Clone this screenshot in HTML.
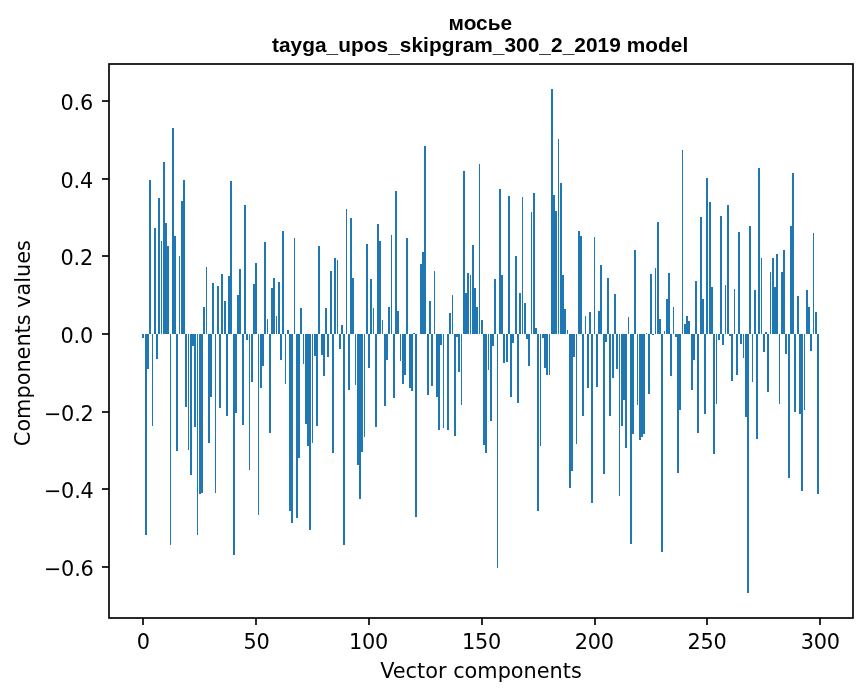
<!DOCTYPE html>
<html><head><meta charset="utf-8"><title>мосье</title>
<style>
html,body{margin:0;padding:0;background:#fff;}
svg{display:block}
.t{font-family:"DejaVu Sans","Liberation Sans",sans-serif;font-size:20.83px;fill:#000}
.h{font-family:"Liberation Sans","DejaVu Sans",sans-serif;font-weight:bold;font-size:20.83px;fill:#000}
</style></head><body>
<svg width="867" height="696" viewBox="0 0 867 696">
<rect width="867" height="696" fill="#fff"/>
<g fill="#1f77b4" shape-rendering="crispEdges"><rect x="142" y="334" width="2" height="4"/><rect x="145" y="334" width="2" height="201"/><rect x="147" y="334" width="2" height="35"/><rect x="149" y="180" width="2" height="154"/><rect x="152" y="334" width="1" height="92"/><rect x="154" y="228" width="2" height="106"/><rect x="156" y="334" width="2" height="25"/><rect x="158" y="198" width="2" height="136"/><rect x="161" y="241" width="1" height="93"/><rect x="163" y="162" width="2" height="172"/><rect x="165" y="223" width="2" height="111"/><rect x="167" y="246" width="2" height="88"/><rect x="170" y="334" width="1" height="211"/><rect x="172" y="128" width="2" height="206"/><rect x="174" y="236" width="2" height="98"/><rect x="176" y="334" width="2" height="117"/><rect x="179" y="256" width="1" height="78"/><rect x="181" y="201" width="2" height="133"/><rect x="183" y="180" width="2" height="154"/><rect x="185" y="334" width="2" height="73"/><rect x="188" y="334" width="1" height="116"/><rect x="190" y="334" width="2" height="141"/><rect x="192" y="334" width="2" height="12"/><rect x="194" y="334" width="2" height="93"/><rect x="197" y="334" width="1" height="201"/><rect x="199" y="334" width="2" height="160"/><rect x="201" y="334" width="2" height="159"/><rect x="203" y="307" width="2" height="27"/><rect x="206" y="267" width="1" height="67"/><rect x="208" y="334" width="2" height="109"/><rect x="210" y="334" width="2" height="63"/><rect x="212" y="283" width="2" height="51"/><rect x="215" y="334" width="1" height="159"/><rect x="217" y="286" width="2" height="48"/><rect x="219" y="334" width="2" height="74"/><rect x="221" y="274" width="2" height="60"/><rect x="224" y="301" width="2" height="33"/><rect x="226" y="334" width="2" height="82"/><rect x="228" y="276" width="2" height="58"/><rect x="230" y="181" width="2" height="153"/><rect x="233" y="334" width="2" height="221"/><rect x="235" y="334" width="2" height="79"/><rect x="237" y="295" width="2" height="39"/><rect x="239" y="269" width="2" height="65"/><rect x="242" y="334" width="2" height="91"/><rect x="244" y="205" width="2" height="129"/><rect x="246" y="334" width="2" height="6"/><rect x="249" y="334" width="1" height="136"/><rect x="251" y="334" width="2" height="48"/><rect x="253" y="284" width="2" height="50"/><rect x="255" y="263" width="2" height="71"/><rect x="258" y="334" width="1" height="181"/><rect x="260" y="334" width="2" height="54"/><rect x="262" y="334" width="2" height="32"/><rect x="264" y="242" width="2" height="92"/><rect x="267" y="319" width="1" height="15"/><rect x="269" y="334" width="2" height="99"/><rect x="271" y="288" width="2" height="46"/><rect x="273" y="278" width="2" height="56"/><rect x="276" y="316" width="1" height="18"/><rect x="278" y="282" width="2" height="52"/><rect x="280" y="334" width="2" height="26"/><rect x="282" y="231" width="2" height="103"/><rect x="285" y="334" width="1" height="50"/><rect x="287" y="330" width="2" height="4"/><rect x="289" y="334" width="2" height="177"/><rect x="291" y="334" width="2" height="189"/><rect x="294" y="238" width="1" height="96"/><rect x="296" y="334" width="2" height="184"/><rect x="298" y="334" width="2" height="124"/><rect x="300" y="308" width="2" height="26"/><rect x="303" y="334" width="1" height="30"/><rect x="305" y="334" width="2" height="90"/><rect x="307" y="334" width="2" height="112"/><rect x="309" y="334" width="2" height="196"/><rect x="312" y="334" width="1" height="109"/><rect x="314" y="334" width="2" height="22"/><rect x="316" y="334" width="2" height="92"/><rect x="318" y="246" width="2" height="88"/><rect x="321" y="334" width="2" height="21"/><rect x="323" y="334" width="2" height="42"/><rect x="325" y="308" width="2" height="26"/><rect x="327" y="334" width="2" height="23"/><rect x="330" y="271" width="2" height="63"/><rect x="332" y="334" width="2" height="119"/><rect x="334" y="258" width="2" height="76"/><rect x="337" y="260" width="1" height="74"/><rect x="339" y="334" width="2" height="15"/><rect x="341" y="325" width="2" height="9"/><rect x="343" y="334" width="2" height="211"/><rect x="346" y="209" width="1" height="125"/><rect x="348" y="334" width="2" height="56"/><rect x="350" y="218" width="2" height="116"/><rect x="352" y="278" width="2" height="56"/><rect x="355" y="334" width="1" height="51"/><rect x="357" y="334" width="2" height="131"/><rect x="359" y="334" width="2" height="165"/><rect x="361" y="334" width="2" height="118"/><rect x="364" y="334" width="1" height="103"/><rect x="366" y="244" width="2" height="90"/><rect x="368" y="334" width="2" height="34"/><rect x="370" y="279" width="2" height="55"/><rect x="373" y="308" width="1" height="26"/><rect x="375" y="334" width="2" height="93"/><rect x="377" y="224" width="2" height="110"/><rect x="379" y="241" width="2" height="93"/><rect x="382" y="320" width="1" height="14"/><rect x="384" y="334" width="2" height="72"/><rect x="386" y="334" width="2" height="26"/><rect x="388" y="307" width="2" height="27"/><rect x="391" y="235" width="1" height="99"/><rect x="393" y="334" width="2" height="64"/><rect x="395" y="191" width="2" height="143"/><rect x="397" y="311" width="2" height="23"/><rect x="400" y="334" width="1" height="27"/><rect x="402" y="334" width="2" height="50"/><rect x="404" y="334" width="2" height="41"/><rect x="406" y="238" width="2" height="96"/><rect x="409" y="334" width="2" height="54"/><rect x="411" y="334" width="2" height="57"/><rect x="413" y="333" width="2" height="1"/><rect x="415" y="334" width="2" height="183"/><rect x="420" y="264" width="2" height="70"/><rect x="422" y="252" width="2" height="82"/><rect x="424" y="146" width="2" height="188"/><rect x="427" y="334" width="2" height="61"/><rect x="429" y="301" width="2" height="33"/><rect x="431" y="334" width="2" height="52"/><rect x="434" y="271" width="1" height="63"/><rect x="436" y="334" width="2" height="63"/><rect x="438" y="334" width="2" height="96"/><rect x="440" y="334" width="2" height="11"/><rect x="443" y="334" width="1" height="94"/><rect x="447" y="334" width="2" height="96"/><rect x="449" y="313" width="2" height="21"/><rect x="452" y="295" width="1" height="39"/><rect x="454" y="334" width="2" height="102"/><rect x="456" y="334" width="2" height="3"/><rect x="458" y="334" width="2" height="38"/><rect x="461" y="334" width="1" height="71"/><rect x="463" y="171" width="2" height="163"/><rect x="465" y="293" width="2" height="41"/><rect x="467" y="273" width="2" height="61"/><rect x="470" y="275" width="1" height="59"/><rect x="472" y="245" width="2" height="89"/><rect x="474" y="288" width="2" height="46"/><rect x="476" y="307" width="2" height="27"/><rect x="479" y="164" width="1" height="170"/><rect x="481" y="320" width="2" height="14"/><rect x="483" y="334" width="2" height="111"/><rect x="485" y="334" width="2" height="119"/><rect x="488" y="334" width="1" height="36"/><rect x="490" y="334" width="2" height="87"/><rect x="492" y="334" width="2" height="12"/><rect x="494" y="279" width="2" height="55"/><rect x="497" y="334" width="1" height="234"/><rect x="499" y="189" width="2" height="145"/><rect x="501" y="275" width="2" height="59"/><rect x="503" y="334" width="2" height="29"/><rect x="506" y="334" width="2" height="28"/><rect x="508" y="196" width="2" height="138"/><rect x="510" y="334" width="2" height="63"/><rect x="512" y="334" width="2" height="9"/><rect x="515" y="256" width="2" height="78"/><rect x="517" y="334" width="2" height="69"/><rect x="519" y="293" width="2" height="41"/><rect x="522" y="197" width="1" height="137"/><rect x="524" y="303" width="2" height="31"/><rect x="526" y="334" width="2" height="5"/><rect x="528" y="334" width="2" height="32"/><rect x="531" y="212" width="1" height="122"/><rect x="533" y="193" width="2" height="141"/><rect x="535" y="328" width="2" height="6"/><rect x="537" y="334" width="2" height="177"/><rect x="540" y="334" width="1" height="112"/><rect x="542" y="334" width="2" height="4"/><rect x="544" y="334" width="2" height="34"/><rect x="546" y="334" width="2" height="41"/><rect x="549" y="334" width="1" height="41"/><rect x="551" y="89" width="2" height="245"/><rect x="553" y="195" width="2" height="139"/><rect x="555" y="211" width="2" height="123"/><rect x="558" y="139" width="1" height="195"/><rect x="560" y="183" width="2" height="151"/><rect x="562" y="275" width="2" height="59"/><rect x="564" y="309" width="2" height="25"/><rect x="567" y="330" width="1" height="4"/><rect x="569" y="334" width="2" height="154"/><rect x="571" y="334" width="2" height="137"/><rect x="573" y="334" width="2" height="23"/><rect x="576" y="334" width="1" height="110"/><rect x="578" y="231" width="2" height="103"/><rect x="580" y="236" width="2" height="98"/><rect x="582" y="334" width="2" height="82"/><rect x="585" y="316" width="1" height="18"/><rect x="587" y="334" width="2" height="54"/><rect x="589" y="312" width="2" height="22"/><rect x="591" y="334" width="2" height="169"/><rect x="594" y="237" width="1" height="97"/><rect x="596" y="334" width="2" height="53"/><rect x="598" y="311" width="2" height="23"/><rect x="600" y="265" width="2" height="69"/><rect x="603" y="334" width="2" height="140"/><rect x="605" y="334" width="2" height="8"/><rect x="607" y="278" width="2" height="56"/><rect x="609" y="334" width="2" height="82"/><rect x="612" y="334" width="2" height="44"/><rect x="614" y="294" width="2" height="40"/><rect x="616" y="334" width="2" height="35"/><rect x="619" y="334" width="1" height="162"/><rect x="621" y="334" width="2" height="92"/><rect x="623" y="334" width="2" height="66"/><rect x="625" y="334" width="2" height="114"/><rect x="628" y="317" width="1" height="17"/><rect x="630" y="334" width="2" height="210"/><rect x="632" y="334" width="2" height="100"/><rect x="634" y="250" width="2" height="84"/><rect x="637" y="334" width="1" height="71"/><rect x="639" y="334" width="2" height="106"/><rect x="641" y="334" width="2" height="103"/><rect x="643" y="334" width="2" height="100"/><rect x="646" y="333" width="1" height="1"/><rect x="648" y="334" width="2" height="60"/><rect x="650" y="274" width="2" height="60"/><rect x="652" y="334" width="2" height="1"/><rect x="655" y="268" width="1" height="66"/><rect x="657" y="222" width="2" height="112"/><rect x="659" y="319" width="2" height="15"/><rect x="661" y="334" width="2" height="218"/><rect x="664" y="331" width="1" height="3"/><rect x="666" y="299" width="2" height="35"/><rect x="668" y="273" width="2" height="61"/><rect x="670" y="334" width="2" height="42"/><rect x="673" y="307" width="1" height="27"/><rect x="675" y="334" width="2" height="3"/><rect x="677" y="334" width="2" height="139"/><rect x="679" y="334" width="2" height="76"/><rect x="682" y="150" width="1" height="184"/><rect x="684" y="324" width="2" height="10"/><rect x="686" y="316" width="2" height="18"/><rect x="688" y="321" width="2" height="13"/><rect x="691" y="334" width="2" height="56"/><rect x="693" y="334" width="2" height="26"/><rect x="695" y="281" width="2" height="53"/><rect x="697" y="334" width="2" height="99"/><rect x="700" y="217" width="2" height="117"/><rect x="702" y="299" width="2" height="35"/><rect x="704" y="334" width="2" height="80"/><rect x="706" y="178" width="2" height="156"/><rect x="709" y="202" width="2" height="132"/><rect x="711" y="287" width="2" height="47"/><rect x="713" y="334" width="2" height="120"/><rect x="716" y="334" width="1" height="70"/><rect x="718" y="334" width="2" height="6"/><rect x="720" y="216" width="2" height="118"/><rect x="722" y="334" width="2" height="11"/><rect x="725" y="285" width="1" height="49"/><rect x="727" y="205" width="2" height="129"/><rect x="729" y="334" width="2" height="2"/><rect x="731" y="334" width="2" height="47"/><rect x="734" y="289" width="1" height="45"/><rect x="736" y="334" width="2" height="41"/><rect x="738" y="232" width="2" height="102"/><rect x="740" y="334" width="2" height="10"/><rect x="743" y="334" width="1" height="24"/><rect x="745" y="334" width="2" height="83"/><rect x="747" y="334" width="2" height="259"/><rect x="749" y="226" width="2" height="108"/><rect x="752" y="334" width="1" height="48"/><rect x="754" y="290" width="2" height="44"/><rect x="756" y="334" width="2" height="105"/><rect x="758" y="168" width="2" height="166"/><rect x="761" y="258" width="1" height="76"/><rect x="763" y="334" width="2" height="18"/><rect x="765" y="332" width="2" height="2"/><rect x="767" y="334" width="2" height="58"/><rect x="770" y="272" width="1" height="62"/><rect x="772" y="258" width="2" height="76"/><rect x="774" y="287" width="2" height="47"/><rect x="776" y="254" width="2" height="80"/><rect x="779" y="334" width="1" height="70"/><rect x="781" y="272" width="2" height="62"/><rect x="783" y="250" width="2" height="84"/><rect x="785" y="334" width="2" height="20"/><rect x="788" y="334" width="2" height="144"/><rect x="790" y="226" width="2" height="108"/><rect x="792" y="173" width="2" height="161"/><rect x="794" y="334" width="2" height="78"/><rect x="797" y="296" width="2" height="38"/><rect x="799" y="334" width="2" height="80"/><rect x="801" y="334" width="2" height="157"/><rect x="804" y="334" width="1" height="76"/><rect x="806" y="290" width="2" height="44"/><rect x="808" y="307" width="2" height="27"/><rect x="810" y="334" width="2" height="17"/><rect x="813" y="233" width="1" height="101"/><rect x="815" y="312" width="2" height="22"/><rect x="817" y="334" width="2" height="160"/></g>
<g stroke="#000" stroke-width="1.67" fill="none">
<rect x="109" y="64" width="744" height="554"/>
<line x1="102.0" y1="101" x2="109" y2="101"/><line x1="102.0" y1="179" x2="109" y2="179"/><line x1="102.0" y1="256" x2="109" y2="256"/><line x1="102.0" y1="334" x2="109" y2="334"/><line x1="102.0" y1="412" x2="109" y2="412"/><line x1="102.0" y1="489" x2="109" y2="489"/><line x1="102.0" y1="567" x2="109" y2="567"/><line x1="143" y1="618" x2="143" y2="625.0"/><line x1="256" y1="618" x2="256" y2="625.0"/><line x1="369" y1="618" x2="369" y2="625.0"/><line x1="482" y1="618" x2="482" y2="625.0"/><line x1="595" y1="618" x2="595" y2="625.0"/><line x1="707" y1="618" x2="707" y2="625.0"/><line x1="820" y1="618" x2="820" y2="625.0"/>
</g>
<g class="t" style="letter-spacing:-0.25px">
<text x="92.9" y="110.0" text-anchor="end">0.6</text><text x="92.9" y="188.0" text-anchor="end">0.4</text><text x="92.9" y="265.0" text-anchor="end">0.2</text><text x="92.9" y="343.0" text-anchor="end">0.0</text><text x="93.5" y="421.0" text-anchor="end">−0.2</text><text x="93.5" y="498.0" text-anchor="end">−0.4</text><text x="93.5" y="576.0" text-anchor="end">−0.6</text><text x="143.3" y="648.9" text-anchor="middle">0</text><text x="256.5" y="648.9" text-anchor="middle">50</text><text x="368.5" y="648.9" text-anchor="middle">100</text><text x="481.4" y="648.9" text-anchor="middle">150</text><text x="594.3" y="648.9" text-anchor="middle">200</text><text x="707.0" y="648.9" text-anchor="middle">250</text><text x="820.3" y="648.9" text-anchor="middle">300</text>
</g>
<g class="t">
<text x="481" y="677.5" text-anchor="middle">Vector components</text>
<text transform="translate(30.3,343.1) rotate(-90)" text-anchor="middle">Components values</text>
</g>
<g class="h">
<text x="480.3" y="29.8" text-anchor="middle">мосье</text>
<text x="480.1" y="51.5" text-anchor="middle" style="letter-spacing:0.05px">tayga_upos_skipgram_300_2_2019 model</text>
</g>
</svg>
</body></html>
